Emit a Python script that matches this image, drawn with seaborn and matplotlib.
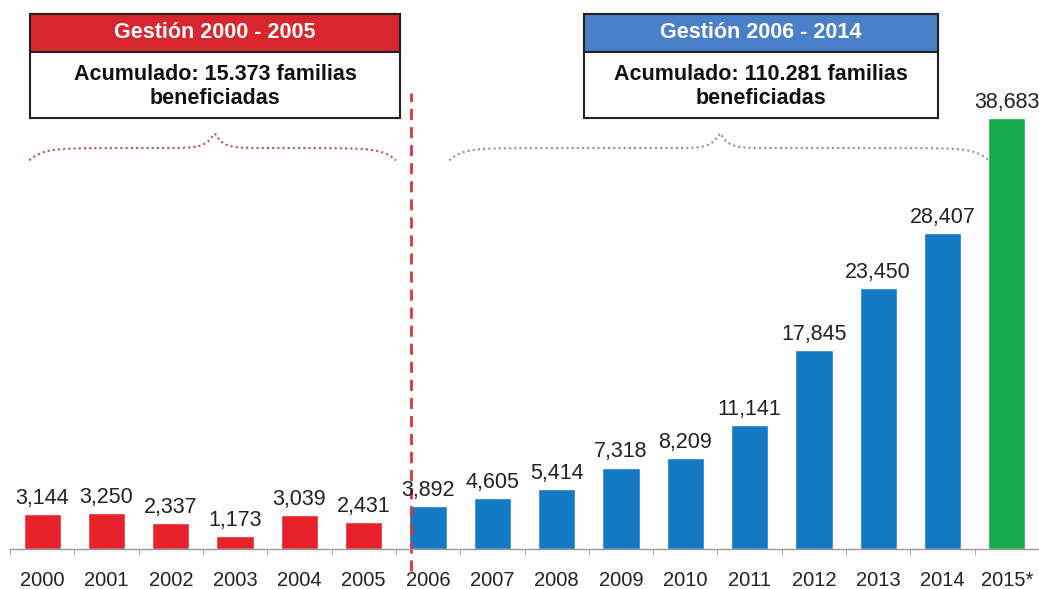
import numpy as np
import pandas as pd
import seaborn as sns
import matplotlib.pyplot as plt
from matplotlib.patches import Rectangle

sns.set_style("white")
plt.rcParams['font.family'] = ['Liberation Sans', 'DejaVu Sans']

years = ["2000", "2001", "2002", "2003", "2004", "2005", "2006", "2007",
         "2008", "2009", "2010", "2011", "2012", "2013", "2014", "2015*"]
familias = [3144, 3250, 2337, 1173, 3039, 2431, 3892, 4605,
            5414, 7318, 8209, 11141, 17845, 23450, 28407, 38683]
periodo = ["2000-2005"] * 6 + ["2006-2014"] * 9 + ["2015"]
colores = {"2000-2005": "#E8222A", "2006-2014": "#1479C4", "2015": "#19A94B"}

df = pd.DataFrame({"anio": years, "familias": familias, "periodo": periodo})

W, H = 1039, 589
fig = plt.figure(figsize=(W / 100, H / 100), dpi=100)
ax = fig.add_axes([10 / W, 40 / H, 1 - 10 / W, 549 / H])

sns.barplot(data=df, x="anio", y="familias", hue="periodo", palette=colores,
            dodge=False, width=0.58, legend=False, ax=ax, saturation=1)

ax.set_xlim(-0.5, 15.45)
ax.set_ylim(0, 49300)
ax.set_yticks([])
ax.set_xlabel("")
ax.set_ylabel("")
for s in ["top", "right", "left"]:
    ax.spines[s].set_visible(False)
ax.spines["bottom"].set_color("#999999")
ax.spines["bottom"].set_linewidth(1)

# ticks between bars, labels centered under bars
ax.set_xticks(np.arange(len(years)))
ax.set_xticklabels(years, fontsize=14.5, color="#222222")
ax.set_xticks(np.arange(len(years) + 1) - 0.5, minor=True)
ax.tick_params(axis="x", which="major", length=0, pad=16)
ax.tick_params(axis="x", which="minor", length=4, color="#999999", bottom=True)

# value labels
for i, v in enumerate(familias):
    ax.text(i, v + 450, f"{v:,}", ha="center", va="bottom",
            fontsize=15.5, color="#222222")

# dashed separator
ax.axvline(5.74, ymin=-0.04, ymax=0.83, color="#E0323A", linestyle=(0, (4, 2.5)),
           linewidth=2, clip_on=False)


def brace(x0, x1, xm, y_end, y_flat, y_peak, n=200):
    xs = np.linspace(x0, x1, n)
    ys = np.full(n, y_flat)
    k = 0.2
    ys = ys + (y_end - y_flat) * (np.exp(-(xs - x0) / k) + np.exp(-(x1 - xs) / k))
    ys = ys + (y_peak - y_flat) * np.exp(-np.abs(xs - xm) / 0.12)
    return xs, ys


bx, by = brace(-0.2, 5.5, 2.68, 34900, 36000, 37400)
ax.plot(bx, by, linestyle=(0, (1, 1.5)), color="#C05050", linewidth=1.5)
bx, by = brace(6.33, 14.72, 10.54, 34900, 36000, 37400)
ax.plot(bx, by, linestyle=(0, (1, 1.5)), color="#8890A0", linewidth=1.5)


def caja(x0, x1, head_color, titulo, linea1, linea2):
    top, mid, bot = 14, 52, 118
    fx = lambda p: p / W
    fy = lambda p: 1 - p / H
    fig.add_artist(Rectangle((fx(x0), fy(bot)), fx(x1 - x0), (bot - top) / H,
                             facecolor="white", edgecolor="#222222", linewidth=1.5,
                             transform=fig.transFigure))
    fig.add_artist(Rectangle((fx(x0), fy(mid)), fx(x1 - x0), (mid - top) / H,
                             facecolor=head_color, edgecolor="#222222", linewidth=1.5,
                             transform=fig.transFigure))
    xc = fx((x0 + x1) / 2)
    fig.text(xc, fy(33), titulo, ha="center", va="center", fontsize=15.5,
             fontweight="bold", color="white")
    fig.text(xc, fy(74), linea1, ha="center", va="center", fontsize=15.5,
             fontweight="bold", color="#111111")
    fig.text(xc, fy(99), linea2, ha="center", va="center", fontsize=15.5,
             fontweight="bold", color="#111111")


caja(30, 400, "#D8262E", "Gestión 2000 - 2005",
     "Acumulado: 15.373 familias", "beneficiadas")
caja(584, 938, "#4A80C8", "Gestión 2006 - 2014",
     "Acumulado: 110.281 familias", "beneficiadas")

fig.savefig("out.png", dpi=100)
